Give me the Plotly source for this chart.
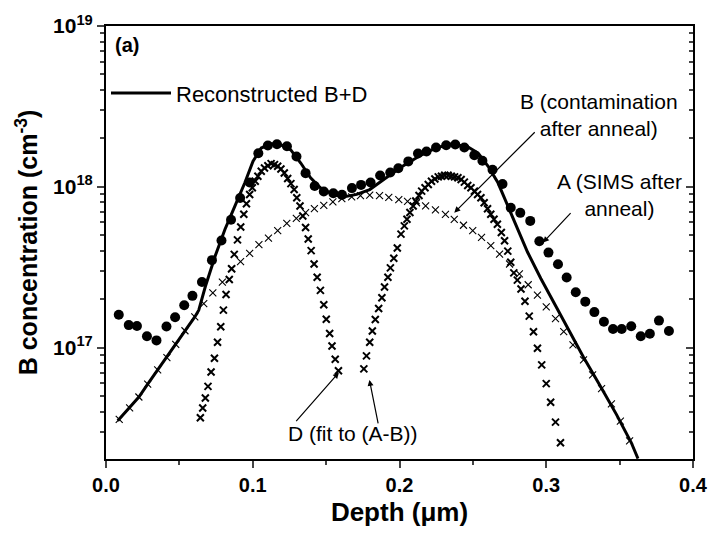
import numpy as np
import plotly.graph_objects as go

# ---------------- data ----------------
# A: SIMS after anneal (filled circles) -- depth (um), log10 concentration (cm^-3)
a_depth = [.0087, .0155, .0211, .0279, .0344, .0412, .0471, .0533, .0589, .0654,
           .0722, .0787, .0852, .0914, .0979, .1038, .1103, .1165, .1233, .1298,
           .136, .1422, .1484, .1549, .1608, .1676, .1738, .1803, .1868, .1937,
           .1992, .206, .2126, .2184, .2249, .2318, .238, .2442, .251, .2565,
           .2634, .2702, .2758, .2823, .2891, .2953, .3015, .308, .3139, .3201,
           .3266, .3328, .3393, .3455, .3514, .3579, .3644, .3706, .3768, .3836]
a_log10 = [17.204, 17.140, 17.135, 17.071, 17.045, 17.131, 17.189, 17.264, 17.322, 17.408,
           17.544, 17.666, 17.795, 17.930, 18.027, 18.209, 18.257, 18.265, 18.252, 18.188,
           18.085, 18.005, 17.971, 17.960, 17.950, 17.992, 18.012, 18.027, 18.070, 18.089,
           18.115, 18.158, 18.207, 18.220, 18.244, 18.259, 18.263, 18.244, 18.197, 18.162,
           18.106, 18.018, 17.870, 17.838, 17.788, 17.662, 17.591, 17.518, 17.436, 17.344,
           17.286, 17.221, 17.161, 17.116, 17.116, 17.133, 17.071, 17.086, 17.168, 17.103]

# B: contamination after anneal (small thin crosses)
b_depth = [.009, .0161, .0224, .0284, .0352, .0415, .0475, .0538, .0605, .0666,
           .0728, .0793, .0856, .0917, .0979, .1042, .1107, .117, .1232, .1297,
           .136, .142, .1484, .1546, .1607, .1674, .1734, .1797, .1864, .1927,
           .1995, .2055, .2116, .2178, .2245, .2313, .2373, .2436, .2499, .2559,
           .2622, .2682, .275, .2817, .2877, .294, .3, .3063, .3119, .3182,
           .3254, .3316, .3377, .3444, .3505, .3568]
b_log10 = [16.554, 16.625, 16.693, 16.773, 16.862, 16.938, 17.020, 17.105, 17.191, 17.274,
           17.340, 17.407, 17.490, 17.535, 17.586, 17.640, 17.681, 17.727, 17.773, 17.804,
           17.840, 17.864, 17.885, 17.906, 17.926, 17.938, 17.945, 17.948, 17.945, 17.935,
           17.920, 17.910, 17.901, 17.881, 17.856, 17.829, 17.798, 17.761, 17.727, 17.685,
           17.634, 17.582, 17.520, 17.459, 17.391, 17.327, 17.253, 17.181, 17.099, 17.017,
           16.924, 16.831, 16.745, 16.650, 16.543, 16.420]

# D: fit to (A-B), first peak (bold crosses)
d1_depth = [.0643, .0659, .0677, .0695, .0716, .0739, .076, .0782, .08, .0818,
            .084, .0856, .0874, .0896, .0918, .0939, .0957, .0979, .0997, .1017,
            .1035, .1058, .108, .1103, .1125, .1148, .117, .1192, .1215, .1238,
            .126, .1282, .13, .1322, .1341, .136, .1378, .1398, .1418, .1439,
            .1461, .1484, .1501, .1524, .154, .1562, .1584]
d1_log10 = [16.564, 16.625, 16.687, 16.759, 16.848, 16.934, 17.033, 17.130, 17.233, 17.330,
            17.424, 17.490, 17.580, 17.670, 17.750, 17.829, 17.895, 17.952, 17.994, 18.035,
            18.066, 18.097, 18.117, 18.131, 18.144, 18.138, 18.128, 18.111, 18.086, 18.052,
            18.020, 17.983, 17.932, 17.881, 17.819, 17.747, 17.675, 17.603, 17.520, 17.438,
            17.356, 17.267, 17.177, 17.088, 17.010, 16.928, 16.856]

# D: fit to (A-B), second peak
d2_depth = [.1757, .1775, .1797, .1815, .1835, .1858, .188, .1898, .1921, .1938,
            .1961, .1985, .201, .2033, .2051, .2071, .2093, .2111, .2133, .2151,
            .2174, .2196, .2218, .2241, .2264, .2286, .2308, .2331, .2353, .2375,
            .2398, .242, .2442, .2465, .2487, .251, .2532, .2555, .2577, .26,
            .2622, .2644, .2667, .2694, .2716, .2738, .2758, .2779, .2803, .2828,
            .2855, .2884, .2913, .294, .2969, .3, .303, .3063, .3097]
d2_log10 = [16.868, 16.949, 17.033, 17.103, 17.175, 17.243, 17.310, 17.377, 17.438, 17.496,
            17.556, 17.620, 17.706, 17.757, 17.798, 17.840, 17.881, 17.912, 17.946, 17.973,
            17.994, 18.014, 18.035, 18.049, 18.062, 18.066, 18.072, 18.072, 18.066, 18.062,
            18.056, 18.045, 18.029, 18.008, 17.994, 17.973, 17.952, 17.932, 17.901, 17.864,
            17.829, 17.798, 17.767, 17.716, 17.665, 17.600, 17.531, 17.465, 17.420, 17.365,
            17.288, 17.196, 17.099, 16.996, 16.893, 16.776, 16.660, 16.537, 16.409]

# Reconstructed B+D (solid line)
r_depth = [.008, .0161, .0224, .0284, .0352, .0415, .0475, .0538, .0605, .0632,
           .0677, .0744, .0811, .0879, .0946, .1002, .1058, .1125, .1192, .1259,
           .1327, .1394, .1461, .1528, .1607, .1708, .1797, .1909, .2021, .2133,
           .2245, .2358, .2469, .2536, .2604, .2671, .2738, .2805, .2873, .2963,
           .3052, .3142, .3254, .3366, .3478, .3579, .3625]
r_log10 = [16.545, 16.625, 16.693, 16.773, 16.862, 16.938, 17.020, 17.105, 17.191, 17.233,
           17.380, 17.570, 17.736, 17.881, 18.025, 18.159, 18.241, 18.267, 18.261, 18.230,
           18.148, 18.056, 17.994, 17.963, 17.935, 17.953, 17.983, 18.056, 18.128, 18.190,
           18.241, 18.267, 18.247, 18.210, 18.128, 18.025, 17.881, 17.736, 17.593, 17.430,
           17.280, 17.120, 16.940, 16.765, 16.585, 16.410, 16.310]

y_major = [1e17, 1e18, 1e19]
y_major_text = ["10<sup>17</sup>", "10<sup>18</sup>", "10<sup>19</sup>"]
x_ticks = [0.0, 0.1, 0.2, 0.3, 0.4]

def conc(v):
    return [10 ** e for e in v]

FONT = "Liberation Sans, Arial, sans-serif"

fig = go.Figure()
fig.add_trace(go.Scatter(x=b_depth, y=conc(b_log10), mode="markers", showlegend=False,
                         marker=dict(symbol="x-thin", size=7, line=dict(width=1.1, color="black"))))
fig.add_trace(go.Scatter(x=d1_depth, y=conc(d1_log10), mode="markers", showlegend=False,
                         marker=dict(symbol="x-thin", size=7, line=dict(width=2, color="black"))))
fig.add_trace(go.Scatter(x=d2_depth, y=conc(d2_log10), mode="markers", showlegend=False,
                         marker=dict(symbol="x-thin", size=7, line=dict(width=2, color="black"))))
fig.add_trace(go.Scatter(x=a_depth, y=conc(a_log10), mode="markers", showlegend=False,
                         marker=dict(symbol="circle", size=10, color="black")))
fig.add_trace(go.Scatter(x=r_depth, y=conc(r_log10), mode="lines", name="Reconstructed B+D",
                         line=dict(color="black", width=3)))
# right-hand axis carrying inward ticks
fig.add_trace(go.Scatter(x=[], y=[], yaxis="y2", showlegend=False))

minor_y = [m * 10 ** d for d in (16, 17, 18) for m in range(2, 10) if 2e16 <= m * 10 ** d <= 1e19]

fig.update_layout(
    width=720, height=546,
    margin=dict(l=106, r=19, t=22, b=87),
    paper_bgcolor="white", plot_bgcolor="white",
    font=dict(family=FONT, color="black", size=20),
    xaxis=dict(range=[0, 0.4], tickvals=x_ticks, tickformat=".1f",
               ticks="outside", ticklen=7, tickwidth=2, showline=True, linewidth=2,
               linecolor="black", mirror=True, showgrid=False, zeroline=False,
               tickfont=dict(family=FONT, size=20, weight="bold"),
               minor=dict(dtick=0.05, ticks="outside", ticklen=4, tickwidth=1.5, showgrid=False),
               title=dict(text="Depth (μm)", font=dict(size=26, weight="bold"), standoff=8)),
    yaxis=dict(type="log", range=[np.log10(2.03e16), 19], tickvals=y_major, ticktext=y_major_text,
               ticks="outside", ticklen=7, tickwidth=2, showline=True, linewidth=2,
               linecolor="black", mirror=True, showgrid=False, zeroline=False,
               tickfont=dict(family=FONT, size=21, weight="bold"),
               minor=dict(tickvals=minor_y, ticks="outside", ticklen=4, tickwidth=1.5, showgrid=False),
               title=dict(text="B concentration (cm<sup>-3</sup>)", font=dict(size=25, weight="bold"),
                          standoff=8)),
    yaxis2=dict(type="log", range=[np.log10(2.03e16), 19], overlaying="y", side="right",
                tickvals=y_major, ticks="inside", ticklen=7, tickwidth=2, showticklabels=False,
                showline=False, showgrid=False, zeroline=False,
                minor=dict(tickvals=minor_y, ticks="inside", ticklen=4, tickwidth=1.5, showgrid=False)),
    legend=dict(x=0.0, y=0.845, xanchor="left", yanchor="middle", bgcolor="rgba(0,0,0,0)",
                font=dict(size=22), itemwidth=60, tracegroupgap=0),
    showlegend=True,
)

ann_font = dict(family=FONT, size=21, color="black")
fig.add_annotation(text="<b>(a)</b>", xref="paper", yref="paper", x=0.012, y=0.955,
                   xanchor="left", yanchor="middle", showarrow=False, font=dict(family=FONT, size=20))
fig.add_annotation(text="B (contamination<br>after anneal)", xref="paper", yref="paper",
                   x=0.84, y=0.795, xanchor="center", yanchor="middle", showarrow=False, font=ann_font)
fig.add_annotation(text="A (SIMS after<br>anneal)", xref="paper", yref="paper",
                   x=0.875, y=0.61, xanchor="center", yanchor="middle", showarrow=False, font=ann_font)
fig.add_annotation(text="D (fit to (A-B))", xref="paper", yref="paper",
                   x=0.42, y=0.06, xanchor="center", yanchor="middle", showarrow=False, font=ann_font)

arrow = dict(showarrow=True, arrowhead=2, arrowsize=1, arrowwidth=1.2, arrowcolor="black", text="",
             xref="x", yref="y")
fig.add_annotation(x=0.2373, y=np.log10(6.9e17), ax=82, ay=-82, **arrow)
fig.add_annotation(x=0.2978, y=np.log10(4.5e17), ax=29, ay=-31, **arrow)
fig.add_annotation(x=0.1587, y=np.log10(7.0e16), ax=-44, ay=50, **arrow)
fig.add_annotation(x=0.1795, y=np.log10(6.3e16), ax=9, ay=45, **arrow)

fig.write_html("out.html")
